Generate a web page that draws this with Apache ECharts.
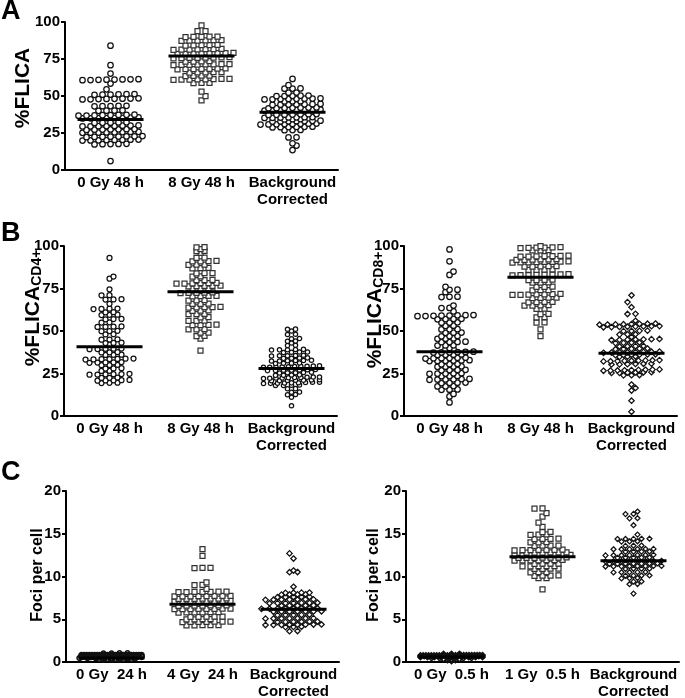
<!DOCTYPE html>
<html><head><meta charset="utf-8">
<script src="https://cdn.jsdelivr.net/npm/echarts@6/dist/echarts.min.js"></script>
<style>html,body{margin:0;padding:0;background:#fff}#c{width:685px;height:698px}</style>
</head><body><div id="c"></div>
<script>
// ---------- categories & ticks ----------
const catsFlica = ['0 Gy 48 h', '8 Gy 48 h', 'Background\nCorrected'];
const catsFoci24 = ['0 Gy  24 h', '4 Gy  24 h', 'Background\nCorrected'];
const catsFoci05 = ['0 Gy  0.5 h', '1 Gy  0.5 h', 'Background\nCorrected'];
const ticksFlica = [0, 25, 50, 75, 100];
const ticksFoci = [0, 5, 10, 15, 20];

// ---------- Panel A values ----------
const a0Gy = [84.0, 70.8, 65.2,
 61.0,61.1,61.2,61.3,60.9,60.8,61.4,60.7, 58.4, 54.5,
 51.0,51.1,51.2,50.9,50.8,51.3,
 48.0,48.1,48.2,47.9,47.8,48.3,47.7,48.4,
 43.2,43.3,43.1,43.0,43.4,
 40.2,40.3,40.1,40.0,
 37.0,37.1,37.2,36.9,36.8,37.3,36.7,37.4,
 35.2,35.3,35.1,35.0,35.4,34.9,35.5,34.8,
 32.0,32.1,31.9,32.2,31.8,
 29.7,29.8,29.6,29.9,29.5,30.0,29.4,30.1,
 27.4,27.5,27.3,27.6,27.2,27.7,27.1,
 25.4,25.5,25.3,25.6,25.2,25.7,25.1,25.8,
 22.5,22.6,22.4,22.7,22.3,22.8,22.2,22.9,
 20.2,20.3,20.1,20.4,20.0,20.5,19.9,20.6,
 17.5,17.6,17.4,17.7,17.3, 6.0];
const a8Gy = [97.8, 93.8,93.9,
 90.0,90.1,89.9,90.2,89.8,
 87.5,87.6,87.4,87.7,87.3,87.8,
 84.3,84.4,84.2,84.5,84.1,
 81.5,81.6,81.4,81.7,81.3,81.8,81.2,
 78.7,78.8,78.6,78.9,78.5,79.0,78.4,79.1,
 75.8,75.9,75.7,76.0,75.6,76.1,75.5,76.2,
 73.3,73.4,73.2,73.5,
 71.2,71.3,71.1,71.4,71.0,71.5,70.9,71.6,
 68.3,68.4,68.2,68.5,68.1,68.6,68.0,
 66.0,66.1,65.9,66.2,65.8,
 63.6,63.7,63.5,63.8,
 61.2,61.3,61.1,61.4,61.0,61.5,60.9,61.6,
 58.8,58.9,58.7, 53.0, 49.9, 47.0];
const aBg = [61.5, 57.3, 55.0,55.1,54.9, 52.2,52.3,
 50.1,50.2,50.0,50.3,49.9,
 48.0,48.1,47.9,48.2,47.8,48.3,47.7,48.4,
 46.4,46.5,46.3,
 44.3,44.4,44.2,44.5,44.1,44.6,44.0,
 42.0,42.1,41.9,42.2,41.8,42.3,41.7,
 40.4,40.5,40.3,40.6,40.2,40.7,40.1,40.8,
 37.5,37.6,37.4,37.7,37.3,37.8,37.2,
 35.5,35.6,35.4,35.7,35.3,35.8,35.2,
 34.2,34.3,34.4,
 33.0,33.1,32.9,33.2,32.8,33.3,32.7,
 31.0,31.1,30.9,31.2,30.8,31.3,30.7,31.4,
 29.0,29.1,28.9,29.2,28.8,29.3,
 27.0,27.1,26.9, 22.0,22.1, 18.0, 16.5, 13.5];
const aMedians = [34.2, 77.1, 39.0];

// ---------- Panel B (CD4+) values ----------
const b4_0Gy = [93.0, 82.0, 80.8, 74.5, 71.0,71.1, 68.6,68.5,68.7, 66.0,
 63.0,63.1,62.9,63.2, 61.0,61.1, 59.5,59.6,59.4, 57.0,57.1,56.9, 55.0,55.1,
 52.5,52.6,52.4,52.7, 50.0,50.1,49.9, 48.0,48.1, 45.0,45.1,44.9,
 43.0,43.1,42.9, 42.2, 39.5,39.6,39.4,39.7,39.3, 37.5,37.6,37.4, 36.0,36.1,35.9,
 33.5,33.6,33.4,33.7,33.3,33.8,33.2, 31.5,31.6,31.4,31.7,31.3,
 30.0,30.1,29.9, 28.0,28.1,27.9, 26.5,26.6,
 24.5,24.6,24.4,24.7,24.3,24.8, 22.5,22.6,22.4,
 21.0,21.1,20.9,21.2,20.8, 19.5,19.6,19.4];
const b4_8Gy = [99.2,99.3, 98.2, 97.0,97.1, 95.9, 93.0,93.1,
 91.0,91.1,90.9,91.2, 89.0,89.1,88.9, 87.0,87.1,86.9, 84.0,84.1,83.9, 82.0,82.1,
 80.0,80.1,79.9, 78.0,78.1,77.9,78.2,77.8,78.3, 76.5,76.6,76.4,76.7,76.3,
 75.0,75.1,74.9, 72.5,72.6,72.4,72.7,72.3, 70.5,70.6,70.4,70.7,
 68.0,68.1,67.9, 66.0,66.1,65.9, 64.0,64.1,63.9,64.2,63.8, 62.0,62.1,61.9,
 60.0,60.1,59.9, 58.0,58.1, 56.0,56.1,55.9, 53.5,53.6,53.4,53.7,
 51.0,51.1,50.9, 49.0,49.1, 47.0,47.1, 45.5, 38.5];
const b4Bg = [51.0,51.1, 50.0, 48.0,48.1, 45.5,45.6, 44.0,44.1, 43.0, 41.5,41.6,
 39.0,39.1,38.9,39.2,38.8, 37.5,37.6,37.4,37.7,
 35.5,35.6,35.4,35.7,35.3, 34.0,34.1,33.9,34.2,
 32.5,32.6,32.4,32.7,32.3,32.8, 31.0,31.1,30.9,31.2,
 29.0,29.1,28.9,29.2,28.8,29.3,28.7,29.4,28.6,29.5,
 27.0,27.1,26.9,27.2,26.8,27.3,26.7, 25.5,25.6,25.4,25.7,25.3,
 24.0,24.1,23.9,24.2,
 22.5,22.6,22.4,22.7,22.3,22.8,22.2,22.9,22.1,23.0,
 21.0,21.1,20.9,21.2,20.8,21.3,20.7,
 19.5,19.6,19.4,19.7,19.3,19.8,19.2,19.9,19.1,
 18.0,18.1,17.9,18.2, 16.0,16.1, 14.0,14.1, 12.5,12.6, 11.0, 6.0];
const b4Medians = [40.8, 73.1, 28.0];

// ---------- Panel B (CD8+) values ----------
const b8_0Gy = [98.0, 91.0, 85.0, 83.0, 76.0, 74.2,74.3, 72.8, 70.0,70.1,70.2,
 65.0, 63.5,63.6, 61.5,
 59.0,59.1,58.9,59.2,58.8,59.3,58.7,59.4, 57.0,57.1,56.9,57.2, 55.0,55.1,54.9,
 53.0,53.1, 51.0,51.1,50.9, 49.0,49.1,48.9, 47.0,47.1,46.9, 45.5,45.6,45.4,
 43.5,43.6,43.4,43.7, 41.5,41.6,41.4, 40.0, 39.3,39.4,
 37.5,37.6,37.4,37.7,37.3,37.8, 36.0,36.1,35.9,36.2,
 34.0,34.1,33.9,34.2,33.8,34.3, 32.5,32.6,32.4,32.7,32.3,32.8,
 30.5,30.6,30.4, 29.0,29.1,28.9,29.2, 27.0,27.1,26.9,27.2,
 25.0,25.1,24.9,25.2,24.8, 23.5,23.6,23.4,
 21.5,21.6,21.4,21.7,21.3,21.8, 19.5,19.6,19.4,19.7,
 17.5,17.6,17.4, 15.5,15.6,15.4, 13.0, 11.5, 8.0];
const b8_8Gy = [100.0, 99.0,99.1,98.9,99.2,98.8,99.3, 97.5,97.6,97.4,
 94.0,94.1,93.9,94.2,93.8,94.3,93.7, 92.0,92.1,91.9,92.2,91.8,92.3,
 90.5,90.6,90.4,90.7,90.3,90.8,90.2,90.9, 88.0,88.1,87.9,88.2,87.8,
 86.0,86.1,85.9,86.2, 83.0,83.1,82.9,83.2,82.8,83.3,82.7,83.4,
 80.0,80.1,79.9,80.2, 78.5,78.6,78.4, 76.0,76.1,75.9, 74.0,74.1,73.9,
 71.5,71.6,71.4,71.7,71.3,71.8,71.2, 69.5,69.6,69.4,69.7,
 67.0,67.1,66.9,67.2, 65.0,65.1,64.9,65.2, 63.0,63.1, 60.0,60.1,
 58.0,58.1, 55.0,55.1, 51.0, 47.0];
const b8Bg = [71.0, 67.0, 64.0, 60.0,60.1, 56.0,
 54.0,54.1,53.9,54.2,53.8,54.3,53.7,54.4,
 52.5,52.6,52.4,52.7,52.3,52.8,52.2,52.9,
 50.0,50.1,49.9,50.2, 48.0,48.1,47.9, 46.5,
 45.0,45.1,44.9,45.2,44.8,45.3,44.7, 43.0,43.1,42.9,43.2,
 41.0,41.1,40.9,41.2, 39.5,39.6,39.4,39.7,39.3,
 37.5,37.6,37.4,37.7,37.3,37.8,37.2,37.9,
 36.0,36.1,35.9,36.2,35.8,36.3, 34.8,34.9,35.0,
 32.5,32.6,32.4,32.7,32.3,32.8,32.2,32.9,32.1,
 30.5,30.6,30.4,30.7,30.3,30.8,
 27.0,27.1,26.9,27.2,26.8,27.3,26.7,27.4,26.6,
 25.5,25.6,25.4,25.7,25.3,25.8, 24.0,24.1,23.9,
 18.5, 16.5, 15.0, 9.0, 2.5];
const b8Medians = [37.8, 81.6, 36.9];

// ---------- Panel C (24 h) values ----------
const c24_0Gy = [1.02,1.00,1.01,0.99,
 0.82,0.821,0.822,0.823,0.824,0.825,0.826,0.827,0.828,0.829,0.83,0.819,0.818,0.817,0.816,0.815,0.814,0.813,0.812,0.811,0.81,0.809,0.808,0.807,
 0.70,0.701,0.702,0.703,0.704,0.705,0.706,0.707,0.708,0.709,0.699,0.698,0.697,0.696,0.695,0.694,0.693,0.692,0.691,0.69,
 0.58,0.581,0.582,0.583,0.584,0.585,0.586,0.579,0.578,0.577,0.576,0.575,0.574,0.573,
 0.47,0.471,0.472,0.473,0.469,0.468,0.467,0.466,
 0.37,0.371,0.372,0.369,0.368, 0.28,0.281,0.279];
const c24_4Gy = [13.2, 12.4, 11.0,11.02,10.98, 9.3, 9.0,9.02, 8.55,
 8.2,8.22,8.18,8.21,8.19,8.23,8.17,
 7.7,7.72,7.68,7.71,7.69,7.73,7.67,7.74,
 7.4,7.42,7.38,7.41,7.39,7.43,7.37,
 7.1,7.12,7.08,7.11,7.09,7.13,7.07,7.14,
 6.6,6.62,6.58,6.61,6.59,6.63,6.57,
 6.2,6.22,6.18,6.21,6.19,6.23,6.17,6.24,
 5.8,5.82,5.78,5.81,5.79,5.83,
 5.3,5.32,5.28,5.31,5.29, 5.0,5.02,4.98,5.01,
 4.7,4.72,4.68,4.71,4.69,4.73,4.67, 4.3,4.32,4.28,4.31,4.29];
const c24Bg = [12.7, 12.1, 10.7, 10.5,10.52, 8.8,
 8.1,8.12,8.09,8.11, 7.9,7.92,7.88,7.91,
 7.6,7.62,7.58,7.61,7.59, 7.3,7.32,7.28,7.31,7.29,7.33,7.27,
 6.9,6.92,6.88,6.91,6.89,6.93,6.87, 6.6,6.62,6.58,6.61,6.59,
 6.25,6.27,6.23,6.26,6.24,6.28,6.22,6.29,
 5.9,5.92,5.88,5.91,5.89,5.93,5.87, 5.5,5.52,5.48,5.51,5.49,
 5.1,5.12,5.08,5.11,5.09,5.13,5.07, 4.7,4.72,4.68,4.71,4.69,4.73,
 4.35,4.37,4.33,4.36,4.34,4.38,4.32,4.39, 4.1,4.12,4.08, 3.6,3.62];
const c24Medians = [0.47, 6.76, 6.17];

// ---------- Panel C (0.5 h) values ----------
const c05_0Gy = [0.95,0.951,0.949,
 0.80,0.801,0.802,0.803,0.804,0.805,0.806,0.807,0.808,0.809,0.81,0.799,0.798,0.797,0.796,0.795,0.794,0.793,0.792,0.791,0.79,0.789,0.788,0.787,
 0.68,0.681,0.682,0.683,0.684,0.685,0.686,0.687,0.688,0.679,0.678,0.677,0.676,0.675,0.674,0.673,0.672,0.671,
 0.56,0.561,0.562,0.563,0.564,0.559,0.558,0.557,0.556,0.555,
 0.44,0.441,0.442,0.439,0.438,0.437, 0.32,0.321,0.319, 0.21,0.211, 0.10];
const c05_1Gy = [17.95,17.97, 17.4, 17.0, 16.3, 15.8, 15.2,15.22,
 14.9,14.92,14.88, 14.4,14.42,14.38,14.41, 14.0,14.02,13.98,
 13.6,13.62,13.58,13.61, 13.1,13.12,13.08,13.11,13.09,13.13,13.07,
 12.8,12.82,12.78,12.81,12.79,12.83,
 12.5,12.52,12.48,12.51,12.49,12.53,12.47,12.54,
 12.2,12.22,12.18,12.21,12.19,12.23,12.17,
 11.9,11.92,11.88,11.91,11.89,11.93,11.87,
 11.5,11.52,11.48,11.51, 11.2,11.22,11.18,11.21,11.19,
 10.9,10.92,10.88,10.91, 10.5,10.52,10.48, 10.1,10.12,10.08,10.11,
 9.8,9.82, 8.5];
const c05Bg = [17.6, 17.3,17.32, 16.8,16.82, 16.0, 14.9,
 14.4,14.42,14.38,14.41,14.39, 14.1,14.12,14.08,
 13.6,13.62,13.58, 13.2,13.22,13.18,13.21,13.19,13.23,
 12.9,12.92,12.88,12.91, 12.5,12.52,12.48,12.51,12.49,12.53,12.47,
 12.2,12.22,12.18,12.21,12.19,
 11.8,11.82,11.78,11.81,11.79,11.83,11.77,11.84,
 11.5,11.52,11.48,11.51,11.49,11.53,11.47,
 11.2,11.22,11.18,11.21,11.19,11.23,11.17,11.24,
 10.9,10.92,10.88,10.91, 10.5,10.52,10.48,10.51,10.49,
 10.1,10.12,10.08,10.11, 9.8,9.82,9.78, 9.4,9.42, 9.1,9.12, 8.0];
const c05Medians = [0.58, 12.3, 11.85];

// ---------- layout helpers (beeswarm positions from values) ----------
function swarm(vals, pxY, spacing, maxW, sym) {
  const s = vals.slice().sort((a, b) => a - b);
  const gapT = 0.6 / pxY;
  const rows = [];
  let cur = null;
  for (const v of s) {
    if (cur && v - cur[cur.length - 1] <= gapT) cur.push(v);
    else { cur = [v]; rows.push(cur); }
  }
  const out = [];
  let prev = null, dir = 1;
  for (const r of rows) {
    const n = r.length;
    const sp = n > 1 ? Math.min(spacing, maxW / (n - 1)) : spacing;
    const y = r.reduce((a, b) => a + b, 0) / n;
    const phase = n % 2 ? 0 : 0.5;
    let eff = phase, shift = 0;
    if (prev && (y - prev.y) * pxY < sym && prev.eff === phase && sp >= spacing - 0.01) {
      shift = dir * sp / 2; dir = -dir; eff = (phase + 0.5) % 1;
    }
    r.forEach((v, k) => out.push([(k - (n - 1) / 2) * sp + shift, v]));
    prev = { y, eff };
  }
  return out;
}

const FONT = '"Liberation Sans", Arial, Helvetica, sans-serif';
const panels = [
  { grid: { left: 65, top: 22, width: 273, height: 148 }, cats: catsFlica, ticks: ticksFlica, medians: aMedians,
    groups: [ { v: a0Gy, sym: 'circle', size: 5.5 }, { v: a8Gy, sym: 'rect', size: 5 }, { v: aBg, sym: 'circle', size: 5.5 } ] },
  { grid: { left: 64, top: 246, width: 273, height: 170 }, cats: catsFlica, ticks: ticksFlica, medians: b4Medians,
    groups: [ { v: b4_0Gy, sym: 'circle', size: 5 }, { v: b4_8Gy, sym: 'rect', size: 5 }, { v: b4Bg, sym: 'circle', size: 4.3 } ] },
  { grid: { left: 404, top: 246, width: 273, height: 170 }, cats: catsFlica, ticks: ticksFlica, medians: b8Medians,
    groups: [ { v: b8_0Gy, sym: 'circle', size: 5.5 }, { v: b8_8Gy, sym: 'rect', size: 5 }, { v: b8Bg, sym: 'diamond', size: 5.5 } ] },
  { grid: { left: 66, top: 491, width: 273, height: 171 }, cats: catsFoci24, ticks: ticksFoci, medians: c24Medians,
    groups: [ { v: c24_0Gy, sym: 'circle', size: 5, maxW: 60, dense: true }, { v: c24_4Gy, sym: 'rect', size: 5 }, { v: c24Bg, sym: 'diamond', size: 5.5 } ] },
  { grid: { left: 406, top: 491, width: 273, height: 171 }, cats: catsFoci05, ticks: ticksFoci, medians: c05Medians,
    groups: [ { v: c05_0Gy, sym: 'diamond', size: 5, maxW: 62, dense: true }, { v: c05_1Gy, sym: 'rect', size: 5 }, { v: c05Bg, sym: 'diamond', size: 5 } ] }
];

const option = { animation: false, backgroundColor: '#fff', grid: [], xAxis: [], yAxis: [], series: [], graphic: [] };
const lbl = { color: '#000', fontWeight: 'bold', fontSize: 15, fontFamily: FONT };
panels.forEach((p, i) => {
  option.grid.push(Object.assign({ outerBoundsMode: 'none', containLabel: false }, p.grid));
  option.xAxis.push({ type: 'category', gridIndex: i, data: p.cats, boundaryGap: true,
    axisLine: { onZero: false, lineStyle: { color: '#000', width: 2 } },
    axisTick: { alignWithLabel: true, length: 4, lineStyle: { color: '#000', width: 2 } },
    axisLabel: Object.assign({ interval: 0, margin: 4, lineHeight: 17 }, lbl), splitLine: { show: false } });
  option.xAxis.push({ type: 'value', gridIndex: i, min: 0, max: 3, show: false });
  const t = p.ticks;
  option.yAxis.push({ type: 'value', gridIndex: i, min: t[0], max: t[t.length - 1], interval: t[1] - t[0],
    axisLine: { show: true, onZero: false, lineStyle: { color: '#000', width: 2 } },
    axisTick: { show: true, length: 4, lineStyle: { color: '#000', width: 2 } },
    axisLabel: Object.assign({ margin: 5 }, lbl), splitLine: { show: false } });
  const band = p.grid.width / 3;
  const pxY = p.grid.height / (t[t.length - 1] - t[0]);
  p.groups.forEach((g, j) => {
    const pts = swarm(g.v, pxY, 8, g.maxW || 56, g.size);
    option.series.push({ type: 'scatter', xAxisIndex: 2 * i + 1, yAxisIndex: i, silent: true,
      symbol: g.sym, symbolSize: g.size,
      itemStyle: { color: g.dense ? 'rgba(0,0,0,0)' : '#fff', borderColor: g.sym === 'rect' ? '#333' : '#111',
        borderWidth: g.dense ? 1.5 : 1.25, opacity: 1 },
      data: pts.map(q => [j + 0.5 + q[0] / band, q[1]]) });
    const hw = 33 / band;
    option.series.push({ type: 'line', xAxisIndex: 2 * i + 1, yAxisIndex: i, silent: true, z: 5,
      symbol: 'none', lineStyle: { color: '#000', width: 3 },
      data: [[j + 0.5 - hw, p.medians[j]], [j + 0.5 + hw, p.medians[j]]] });
  });
});

const nameFont = (s) => 'bold ' + s + 'px ' + FONT;
const yNames = [
  { text: '%FLICA', x: 23, y: 88, size: 21 },
  { text: '%FLICA{s|CD4+}', x: 33, y: 308, size: 21 },
  { text: '%FLICA{s|CD8+}', x: 375, y: 310, size: 21 },
  { text: 'Foci per cell', x: 38, y: 575, size: 16 },
  { text: 'Foci per cell', x: 374, y: 575, size: 16 }
];
yNames.forEach(n => option.graphic.push({ type: 'text', x: n.x, y: n.y, rotation: Math.PI / 2, silent: true,
  style: { text: n.text, font: nameFont(n.size), fill: '#000', align: 'center', verticalAlign: 'middle',
    rich: { s: { fontSize: 14, fontWeight: 'bold', fontFamily: FONT, fill: '#000', verticalAlign: 'bottom', padding: [9, 0, 0, 0] } } } }));
[['A', 12], ['B', 234], ['C', 473]].forEach(l => option.graphic.push({ type: 'text', x: 1, y: l[1], silent: true,
  style: { text: l[0], font: nameFont(27), fill: '#000', align: 'left', verticalAlign: 'middle' } }));

const chart = echarts.init(document.getElementById('c'), null, { renderer: 'canvas' });
chart.setOption(option);
</script></body></html>
